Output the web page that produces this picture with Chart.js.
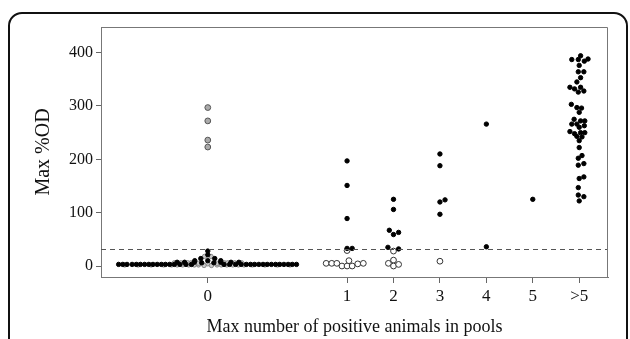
<!DOCTYPE html>
<html>
<head>
<meta charset="utf-8">
<script src="https://cdn.jsdelivr.net/npm/chart.js@4/dist/chart.umd.min.js"></script>
<style>
  body { margin: 0; background: #fff; overflow: hidden; }
  #frame { position: absolute; left: 8px; top: 12px; width: 616px; height: 345px; border: 2px solid #111; border-radius: 14px; }
  #wrap { position: absolute; left: 0; top: 0; width: 630px; height: 339px; }
</style>
</head>
<body>
<div id="frame"></div>
<div id="wrap"><canvas id="chart"></canvas></div>
<script>
// axis ticks: pool "0" sits at -2 so its wide swarm fits
const xTickPos = [-2, 1, 2, 3, 4, 5, 6];
const xTickLabels = ["0", "1", "2", "3", "4", "5", ">5"];
const yTicks = [0, 100, 200, 300, 400];
const cutoff = 31;

// pools with 0 positive animals
const zeroBlackX = [-3.92, -3.83, -3.74, -3.63, -3.54, -3.45, -3.36, -3.27, -3.18, -3.09, -3.0, -2.91, -2.82,
  -2.72, -2.6, -2.47, -2.35, -1.65, -1.53, -1.4, -1.28,
  -1.17, -1.08, -0.99, -0.9, -0.81, -0.72, -0.63, -0.54, -0.45, -0.36, -0.27, -0.18, -0.09,
  -2.66, -2.5, -2.29, -1.72, -1.5, -1.33,
  -2.0, -2.0, -2.15, -1.85, -2.28, -2.0, -1.72, -2.13, -1.87];
const zeroBlackY = [3, 3, 3, 3, 3, 3, 3, 3, 3, 3, 3, 3, 3,
  3, 3, 3, 3, 3, 3, 3, 3,
  3, 3, 3, 3, 3, 3, 3, 3, 3, 3, 3, 3, 3,
  7, 7, 7, 7, 7, 7,
  28, 21, 14, 14, 10, 10, 10, 6, 6];
const zeroHatchX = [-3.79, -3.5, -3.22, -2.95, -2.78, -2.66, -2.54, -2.41, -2.29, -2.2, -1.8, -1.71, -1.59, -1.46, -1.34, -1.22,
  -1.04, -0.77, -0.5, -0.23,
  -2.72, -2.58, -2.43, -2.36, -1.64, -1.57, -1.42, -1.27,
  -2.07, -1.93, -2.2, -1.8, -2.0, -2.08, -1.92, -2.35, -1.65];
const zeroHatchY = [2, 2, 2, 2, 2, 2, 2, 2, 2, 2, 2, 2, 2, 2, 2, 2,
  2, 2, 2, 2,
  6, 6, 6, 6, 6, 6, 6, 6,
  18, 18, 5, 5, 4, 1, 1, 3, 3];
const zeroGreyX = [-2, -2, -2, -2];
const zeroGreyY = [297, 272, 236, 223];

// pools with 1 to 5 positive animals
const posBlackX = [1.0, 1.0, 1.0, 1.0, 1.11,
  2.0, 2.0, 1.91, 2.0, 2.11, 1.88, 2.11,
  3.0, 3.0, 3.0, 3.11, 3.0,
  4.0, 4.0,
  5.0];
const posBlackY = [197, 151, 89, 33, 33,
  125, 106, 67, 59, 63, 35, 32,
  210, 188, 120, 124, 97,
  266, 36,
  125];
const posOpenX = [0.55, 0.67, 0.78, 0.89, 1.0, 1.11, 1.04, 1.23, 1.35, 1.0,
  2.0, 2.0, 1.89, 2.0, 2.11,
  3.0];
const posOpenY = [5, 5, 5, 0, 0, 0, 10, 4, 5, 29,
  28, 11, 5, 0, 3,
  9];

// pools with more than 5 positive animals
const overFiveX = [5.84, 5.98, 6.03, 6.11, 6.19, 6.0, 5.98, 6.1, 6.03, 5.95,
  5.8, 5.9, 6.03, 5.98, 6.1, 5.83, 5.95, 6.05, 6.0, 5.89,
  6.03, 6.12, 5.84, 5.95, 6.0, 6.11, 5.8, 5.9, 6.03, 6.12,
  5.95, 6.06, 6.0, 6.0, 6.06, 5.98, 6.1, 5.98, 6.0, 6.1,
  5.98, 5.98, 6.1, 6.0];
const overFiveY = [387, 387, 394, 384, 388, 376, 364, 364, 353, 345,
  335, 332, 335, 326, 328, 303, 297, 296, 288, 275,
  272, 272, 266, 266, 260, 263, 252, 248, 250, 250,
  243, 242, 235, 222, 207, 202, 192, 189, 164, 167,
  147, 133, 130, 122];

function zip(xs, ys) {
  return xs.map((x, i) => ({ x: x, y: ys[i] }));
}

const serif = "'Liberation Serif', 'DejaVu Serif', serif";

// box around the plot and the dashed cut-off line
const extras = {
  id: "extras",
  afterDatasetsDraw(chart) {
    const ctx = chart.ctx;
    const a = chart.chartArea;
    const yCut = chart.scales.y.getPixelForValue(cutoff);
    ctx.save();
    ctx.strokeStyle = "#555";
    ctx.lineWidth = 1;
    ctx.setLineDash([5, 4]);
    ctx.beginPath();
    ctx.moveTo(a.left, Math.round(yCut) + 0.5);
    ctx.lineTo(a.right, Math.round(yCut) + 0.5);
    ctx.stroke();
    ctx.setLineDash([]);
    ctx.strokeStyle = "#777";
    ctx.beginPath();
    ctx.moveTo(a.left, a.top + 0.5);
    ctx.lineTo(a.right - 0.5, a.top + 0.5);
    ctx.lineTo(a.right - 0.5, a.bottom);
    ctx.stroke();
    ctx.restore();
  },
};

new Chart(document.getElementById("chart"), {
  type: "scatter",
  data: {
    datasets: [
      {
        data: zip(zeroBlackX, zeroBlackY).concat(zip(posBlackX, posBlackY), zip(overFiveX, overFiveY)),
        pointRadius: 2.2,
        pointBackgroundColor: "#000",
        pointBorderColor: "#000",
        pointBorderWidth: 1,
      },
      {
        data: zip(zeroGreyX, zeroGreyY),
        pointRadius: 2.9,
        pointBackgroundColor: "#aaa",
        pointBorderColor: "#555",
        pointBorderWidth: 1,
      },
      {
        data: zip(posOpenX, posOpenY),
        pointRadius: 2.9,
        pointBackgroundColor: "#fff",
        pointBorderColor: "#333",
        pointBorderWidth: 1,
      },
      {
        data: zip(zeroHatchX, zeroHatchY),
        pointRadius: 2.2,
        pointBackgroundColor: "#c8c8c8",
        pointBorderColor: "#777",
        pointBorderWidth: 0.8,
      },
    ],
  },
  options: {
    responsive: true,
    maintainAspectRatio: false,
    animation: false,
    layout: { padding: { left: 31, top: 27, right: 22, bottom: 0 } },
    plugins: { legend: { display: false }, tooltip: { enabled: false } },
    scales: {
      x: {
        type: "linear",
        min: -4.3,
        max: 6.62,
        afterBuildTicks: (axis) => {
          axis.ticks = xTickPos.map((v) => ({ value: v }));
        },
        afterFit: (axis) => {
          axis.height = 62;
        },
        ticks: {
          callback: (v) => xTickLabels[xTickPos.indexOf(v)],
          font: { family: serif, size: 17 },
          color: "#111",
          padding: 3,
          maxRotation: 0,
        },
        grid: { drawOnChartArea: false, tickLength: 6, color: "#666" },
        border: { color: "#777" },
        title: {
          display: true,
          text: "Max number of positive animals in pools",
          font: { family: serif, size: 18 },
          color: "#111",
          padding: { top: 0, bottom: 1 },
        },
      },
      y: {
        min: -20.6,
        max: 448,
        afterBuildTicks: (axis) => {
          axis.ticks = yTicks.map((v) => ({ value: v }));
        },
        afterFit: (axis) => {
          axis.width = 70;
        },
        ticks: {
          font: { family: serif, size: 16 },
          color: "#111",
          padding: 3,
        },
        grid: { drawOnChartArea: false, tickLength: 5, color: "#666" },
        border: { color: "#777" },
        title: {
          display: true,
          text: "Max %OD",
          font: { family: serif, size: 20 },
          color: "#111",
          padding: { top: 1, bottom: 0 },
        },
      },
    },
  },
  plugins: [extras],
});
</script>
</body>
</html>
